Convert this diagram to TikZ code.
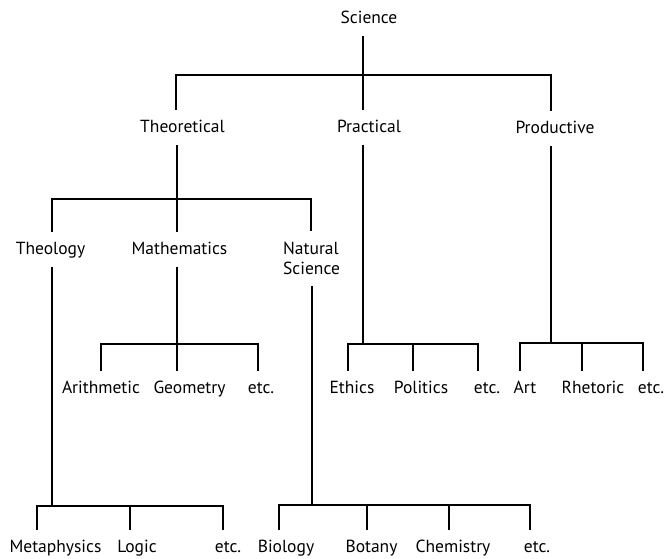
\documentclass[tikz,border=0pt]{standalone}
\usepackage{fontspec}
\setmainfont{PT Sans}
\begin{document}
\begin{tikzpicture}[x=1pt,y=-1pt,
  word/.style={font=\fontsize{17.5}{20}\selectfont,inner xsep=0pt,inner ysep=10pt,text height=12pt,text depth=3pt,anchor=base},
  branch/.style={line width=2.8pt,line join=miter}]
\useasboundingbox (0,0) rectangle (667,558);
% words
\node (sci) at (369,23) [word] {Science};
\node (theo) at (182.5,132) [word] {Theoretical};
\node (prac) at (369,132) [word] {Practical};
\node (prod) at (555,133) [word] {Productive};
\node (theol) at (50.5,254) [word] {Theology};
\node (math) at (179.5,254) [word] {Mathematics};
\node (natsci) at (283,231) [word,anchor=north west,text height=,text depth=,inner ysep=11pt,align=left] {Natural\\Science};
\node (arith) at (101,393) [word] {Arithmetic};
\node (geom) at (189.5,393) [word] {Geometry};
\node (metc) at (261,393) [word] {etc.};
\node (ethics) at (352,393) [word] {Ethics};
\node (polit) at (421,393) [word] {Politics};
\node (petc) at (487,393) [word] {etc.};
\node (art) at (525,393) [word] {Art};
\node (rhet) at (593,393) [word] {Rhetoric};
\node (aetc) at (651,393) [word] {etc.};
\node (meta) at (55.5,552) [word] {Metaphysics};
\node (logic) at (137,552) [word] {Logic};
\node (tetc) at (228,552) [word] {etc.};
\node (bio) at (286,552) [word] {Biology};
\node (bot) at (371.5,552) [word] {Botany};
\node (chem) at (453,552) [word] {Chemistry};
\node (netc) at (537,552) [word] {etc.};
% junctions
\coordinate (sciJ) at (363,75);
\coordinate (theoB) at (176,75);
\coordinate (prodB) at (551,75);
\coordinate (theoJ) at (177,199);
\coordinate (theolB) at (52,199);
\coordinate (natB) at (311,199);
\coordinate (mathJ) at (177,344);
\coordinate (arB) at (101,344);
\coordinate (meB) at (258,344);
\coordinate (pracJ) at (363,344);
\coordinate (ethB) at (348,344);
\coordinate (polB) at (413,344);
\coordinate (peB) at (478,344);
\coordinate (prodJ) at (551,343);
\coordinate (artB) at (520,343);
\coordinate (rhB) at (582,343);
\coordinate (aeB) at (643,343);
\coordinate (theolJ) at (52,506);
\coordinate (metaB) at (37,506);
\coordinate (loB) at (130,506);
\coordinate (teB) at (223,506);
\coordinate (natJ) at (312,505);
\coordinate (bioB) at (279,505);
\coordinate (botB) at (367,505);
\coordinate (chB) at (449,505);
\coordinate (neB) at (530,505);
% Science
\draw[branch] (sci.south -| sciJ) -- (sciJ);
\draw[branch] (theo.north -| theoB) -- (theoB) -- (prodB) -- (prod.north -| prodB);
\draw[branch] (prac.north -| sciJ) -- (sciJ);
% Theoretical
\draw[branch] (theo.south -| theoJ) -- (theoJ);
\draw[branch] (theol.north -| theolB) -- (theolB) -- (natB) -- (natsci.north -| natB);
\draw[branch] (math.north -| theoJ) -- (theoJ);
% Mathematics
\draw[branch] (math.south -| mathJ) -- (mathJ);
\draw[branch] (arith.north -| arB) -- (arB) -- (meB) -- (metc.north -| meB);
\draw[branch] (geom.north -| mathJ) -- (mathJ);
% Practical
\draw[branch] (prac.south -| pracJ) -- (pracJ);
\draw[branch] (ethics.north -| ethB) -- (ethB) -- (peB) -- (petc.north -| peB);
\draw[branch] (polit.north -| polB) -- (polB);
% Productive
\draw[branch] (prod.south -| prodJ) -- (prodJ);
\draw[branch] (art.north -| artB) -- (artB) -- (aeB) -- (aetc.north -| aeB);
\draw[branch] (rhet.north -| rhB) -- (rhB);
% Theology
\draw[branch] (theol.south -| theolJ) -- (theolJ);
\draw[branch] (meta.north -| metaB) -- (metaB) -- (teB) -- (tetc.north -| teB);
\draw[branch] (logic.north -| loB) -- (loB);
% Natural Science
\draw[branch] (natsci.south -| natJ) -- (natJ);
\draw[branch] (bio.north -| bioB) -- (bioB) -- (neB) -- (netc.north -| neB);
\draw[branch] (bot.north -| botB) -- (botB);
\draw[branch] (chem.north -| chB) -- (chB);
\end{tikzpicture}
\end{document}
